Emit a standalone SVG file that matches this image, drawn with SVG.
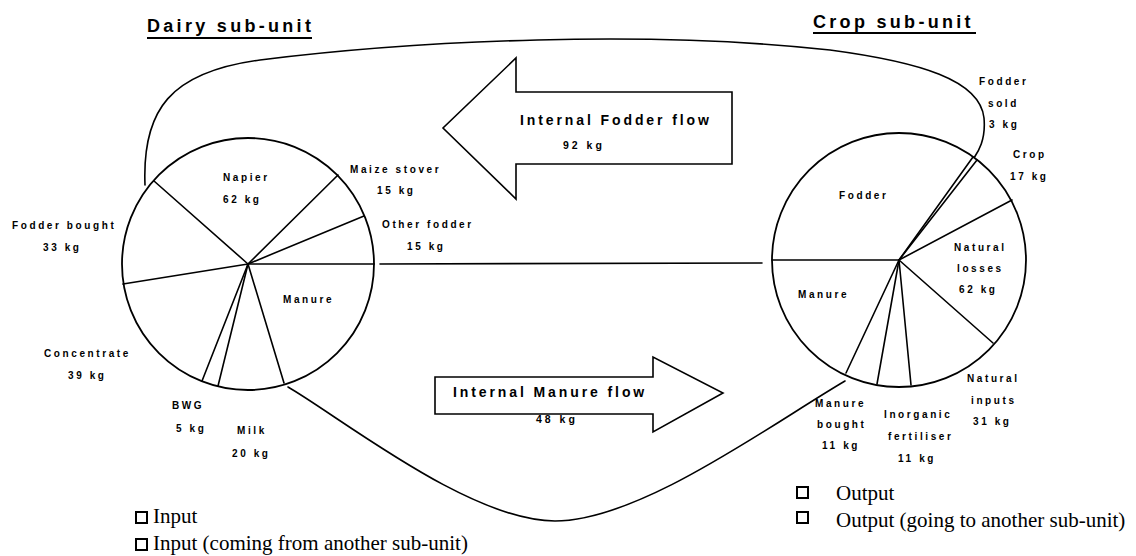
<svg xmlns="http://www.w3.org/2000/svg" width="1136" height="556" viewBox="0 0 1136 556">
<style>
.ln{stroke:#000;stroke-width:1.6;fill:none;stroke-linecap:round}
.pie{stroke:#000;stroke-width:1.8;fill:#fff}
.arr{stroke:#000;stroke-width:1.6;fill:#fff;stroke-linejoin:miter}
.lb{font-family:"Liberation Sans",Arial,sans-serif;font-weight:bold;font-size:10px;letter-spacing:2.6px;fill:#000}
.ttl{font-family:"Liberation Sans",Arial,sans-serif;font-weight:bold;font-size:18px;letter-spacing:3.3px;fill:#000}
.at{font-family:"Liberation Sans",Arial,sans-serif;font-weight:bold;font-size:14px;letter-spacing:2.9px;fill:#000}
.ak{font-family:"Liberation Sans",Arial,sans-serif;font-weight:bold;font-size:10.5px;letter-spacing:3px;fill:#000}
.lg{font-family:"Liberation Serif","Times New Roman",serif;font-size:21px;fill:#000}
.box{stroke:#000;stroke-width:2;fill:#fff}
</style>
<rect width="1136" height="556" fill="#fff"/>

<g id="titles">
  <text class="ttl" x="147" y="32">Dairy sub-unit</text>
  <line x1="147" y1="38" x2="312" y2="38" stroke="#000" stroke-width="2"/>
  <text class="ttl" x="813" y="28">Crop sub-unit</text>
  <line x1="813" y1="33" x2="976" y2="33" stroke="#000" stroke-width="2"/>
</g>

<g id="connectors">
  <path class="ln" d="M145 185 C142 110 170 72 260 60 C420 40 650 30 830 50 C920 62 980 80 984 118 C986 140 978 152 974 158"/>
  <path class="ln" d="M288 387 C340 417 470 521 555 521 C640 521 770 425 845 381"/>
  <line class="ln" x1="380" y1="264" x2="762" y2="263"/>
</g>

<g id="fodder-flow">
  <polygon class="arr" points="732,92 516,92 516,58 443,128 516,199 516,164 732,164"/>
  <text class="at" x="520" y="125">Internal Fodder flow</text>
  <text class="ak" x="563" y="149">92 kg</text>
</g>

<g id="manure-flow">
  <polygon class="arr" points="435,377 653,377 653,357 723,393 653,432 653,414 435,414"/>
  <text class="at" x="453" y="397">Internal Manure flow</text>
  <text class="ak" x="536" y="423">48 kg</text>
</g>

<g id="dairy-pie">
  <circle class="pie" cx="248" cy="264" r="126"/>
  <g class="ln">
    <line x1="248" y1="264" x2="154" y2="181"/>
    <line x1="248" y1="264" x2="338" y2="175"/>
    <line x1="248" y1="264" x2="364" y2="216"/>
    <line x1="248" y1="264" x2="374" y2="264"/>
    <line x1="248" y1="264" x2="123" y2="284"/>
    <line x1="248" y1="264" x2="202" y2="381"/>
    <line x1="248" y1="264" x2="218" y2="386"/>
    <line x1="248" y1="264" x2="284" y2="383"/>
  </g>
  <text class="lb" x="223" y="181">Napier</text>
  <text class="lb" x="223" y="203">62 kg</text>
  <text class="lb" x="350" y="173">Maize stover</text>
  <text class="lb" x="377" y="194">15 kg</text>
  <text class="lb" x="382" y="228">Other fodder</text>
  <text class="lb" x="407" y="250">15 kg</text>
  <text class="lb" x="12" y="229">Fodder bought</text>
  <text class="lb" x="43" y="251">33 kg</text>
  <text class="lb" x="283" y="303">Manure</text>
  <text class="lb" x="44" y="357">Concentrate</text>
  <text class="lb" x="68" y="379">39 kg</text>
  <text class="lb" x="172" y="409">BWG</text>
  <text class="lb" x="176" y="432">5 kg</text>
  <text class="lb" x="237" y="434">Milk</text>
  <text class="lb" x="232" y="457">20 kg</text>
</g>

<g id="crop-pie">
  <circle class="pie" cx="899" cy="260" r="127"/>
  <g class="ln">
    <line x1="899" y1="260" x2="973" y2="157"/>
    <line x1="899" y1="260" x2="977" y2="160"/>
    <line x1="899" y1="260" x2="1012" y2="200"/>
    <line x1="899" y1="260" x2="772" y2="260"/>
    <line x1="899" y1="260" x2="993" y2="343"/>
    <line x1="899" y1="260" x2="846" y2="373"/>
    <line x1="899" y1="260" x2="877" y2="384"/>
    <line x1="899" y1="260" x2="911" y2="385"/>
  </g>
  <text class="lb" x="839" y="199">Fodder</text>
  <text class="lb" x="979" y="85">Fodder</text>
  <text class="lb" x="988" y="107">sold</text>
  <text class="lb" x="989" y="128">3 kg</text>
  <text class="lb" x="1013" y="158">Crop</text>
  <text class="lb" x="1010" y="180">17 kg</text>
  <text class="lb" x="954" y="251">Natural</text>
  <text class="lb" x="957" y="272">losses</text>
  <text class="lb" x="959" y="293">62 kg</text>
  <text class="lb" x="798" y="298">Manure</text>
  <text class="lb" x="967" y="382">Natural</text>
  <text class="lb" x="971" y="404">inputs</text>
  <text class="lb" x="973" y="425">31 kg</text>
  <text class="lb" x="815" y="407">Manure</text>
  <text class="lb" x="817" y="428">bought</text>
  <text class="lb" x="822" y="449">11 kg</text>
  <text class="lb" x="884" y="418">Inorganic</text>
  <text class="lb" x="888" y="440">fertiliser</text>
  <text class="lb" x="898" y="462">11 kg</text>
</g>

<g id="legend">
  <rect class="box" x="136" y="512" width="11" height="11"/>
  <text class="lg" x="153" y="523">Input</text>
  <rect class="box" x="136" y="539" width="11" height="11"/>
  <text class="lg" x="153" y="550">Input (coming from another sub-unit)</text>
  <rect class="box" x="797" y="487" width="11" height="11"/>
  <text class="lg" x="836" y="500">Output</text>
  <rect class="box" x="797" y="512" width="11" height="11"/>
  <text class="lg" x="836" y="527">Output (going to another sub-unit)</text>
</g>
</svg>
